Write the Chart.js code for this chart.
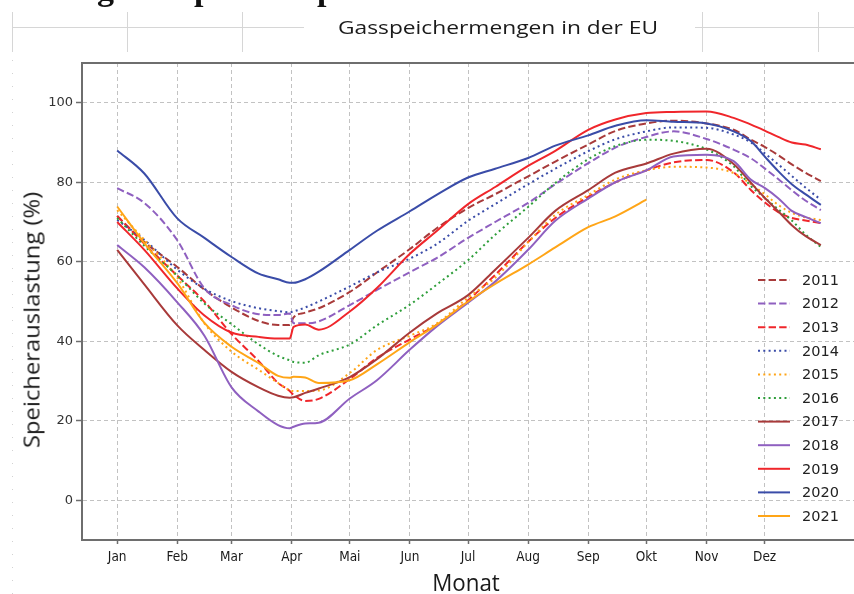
<!DOCTYPE html>
<html lang="de">
<head>
<meta charset="utf-8">
<title>Gasspeichermengen in der EU</title>
<script src="https://cdn.jsdelivr.net/npm/chart.js@4.4.1/dist/chart.umd.min.js"></script>
<style>
  html, body { margin: 0; padding: 0; background: #fff; }
  body { width: 854px; height: 594px; overflow: hidden; position: relative; font-family: 'Open Sans', sans-serif; }
  canvas { position: absolute; left: 0; top: 0; }
  .sheet-h, .sheet-v { position: absolute; background: #d6d6d6; }
  .sheet-h { height: 1px; top: 27px; }
  .sheet-v { width: 1px; top: 12px; height: 40px; }
  .dots { position: absolute; left: 12px; top: 60px; width: 1px; height: 534px;
          background: repeating-linear-gradient(to bottom, #d2d2d2 0 1px, transparent 1px 13px); }
  .cut { position: absolute; top: -28px; font: bold 34px 'Liberation Serif', serif; line-height: 34px; color: #111; }
  .lbl { position: absolute; white-space: nowrap; color: #1a1a1a; line-height: 1; transform-origin: center center; }
</style>
</head>
<body>
<canvas id="chart" width="854" height="594"></canvas>

<div class="sheet-h" style="left:12px; width:292px"></div>
<div class="sheet-h" style="left:695px; width:159px"></div>
<div class="sheet-v" style="left:12px"></div>
<div class="sheet-v" style="left:127px"></div>
<div class="sheet-v" style="left:242px"></div>
<div class="sheet-v" style="left:702px"></div>
<div class="sheet-v" style="left:818px"></div>
<div class="dots"></div>
<span class="cut" style="left:97px">g</span>
<span class="cut" style="left:194px">p</span>
<span class="cut" style="left:317px">p</span>

<span id="title" class="lbl" style="left:498px; top:27px; font-size:19px">Gasspeichermengen in der EU</span>
<span id="ylabel" class="lbl" style="left:32px; top:320px; font-size:21px">Speicherauslastung (%)</span>
<span id="xlabel" class="lbl" style="left:466px; top:582px; font-size:23px">Monat</span>

<script>
// Tag im Jahr der Stützstellen
const days = [1, 15, 32, 46, 60, 74, 84, 90, 92, 98, 105, 121, 135, 152, 166, 182, 196, 213, 227, 244, 258, 274, 288, 305, 319, 328, 335, 342, 349, 356, 364];

const monthStarts = [1, 32, 60, 91, 121, 152, 182, 213, 244, 274, 305, 335];
const monthLabels = ['Jan', 'Feb', 'Mar', 'Apr', 'Mai', 'Jun', 'Jul', 'Aug', 'Sep', 'Okt', 'Nov', 'Dez'];
const yTicks = [0, 20, 40, 60, 80, 100];

const years = ['2011', '2012', '2013', '2014', '2015', '2016', '2017', '2018', '2019', '2020', '2021'];

const s2011 = [71.5, 65, 58.7, 53, 48.5, 45.1, 44.1, 44.1, 46, 47.2, 48.3, 52.4, 57.3, 63.2, 68.5, 73.5, 77, 81.5, 85.2, 89.5, 92.9, 94.8, 95.5, 94.8, 93.2, 90.7, 88.9, 86.8, 84.5, 82.4, 80.3];
const s2012 = [78.5, 74.8, 65.4, 53.3, 49.1, 46.8, 46.6, 47, 44.5, 44.5, 45, 49.1, 52.9, 57.4, 61, 66, 70, 74.8, 79.5, 84.8, 88.7, 91.4, 92.8, 90.9, 88.2, 86, 83.5, 80.8, 78, 75.4, 73];
const s2013 = [71.5, 64.5, 56.5, 50, 41.8, 35, 29.5, 27.5, 26.5, 25, 25.5, 30.5, 35.8, 40.5, 44.2, 50.3, 56.7, 65, 71, 76.3, 80, 83, 85, 85.6, 82.5, 78, 75, 72.5, 71, 70.4, 69.7];
const s2014 = [70.5, 65.5, 58, 53.2, 50.1, 48.3, 47.6, 47.3, 47.5, 48.5, 50, 53.8, 57.3, 60.8, 64.5, 70.3, 74.5, 79.5, 83.4, 87.8, 90.8, 92.8, 93.8, 93.7, 92, 90, 87.3, 84.5, 81.6, 78.7, 75.6];
const s2015 = [73, 65.5, 56, 44.5, 37.4, 32.8, 29.5, 27.7, 27.5, 27.5, 27.6, 32, 37.8, 41.4, 44.5, 51, 56, 64.9, 71.8, 76.8, 80.7, 83, 83.9, 83.7, 82.3, 79.5, 77, 74.3, 72.3, 71.2, 70.5];
const s2016 = [71, 64, 56.5, 49.5, 44.3, 39.2, 36.3, 35.2, 34.8, 34.6, 36.5, 39.2, 44, 49.2, 54.3, 60.4, 66.8, 73.8, 79.8, 85.8, 89.1, 90.7, 90.4, 88.3, 84, 79, 76.1, 73.2, 70.4, 66.9, 63.7];
const s2017 = [63, 54.3, 44, 37.8, 32.3, 28.4, 26.3, 25.8, 25.9, 27, 28.1, 31, 35.5, 42.2, 47, 51.6, 58, 66, 72.8, 78, 82.4, 84.7, 87.2, 88.4, 84.6, 79.8, 76.1, 72.7, 69.2, 66.5, 64.2];
const s2018 = [64.2, 58.6, 49.8, 41.4, 28.4, 22.3, 18.9, 18.1, 18.5, 19.3, 19.5, 25.6, 30.2, 37.9, 43.8, 49.7, 55, 63, 70.3, 75.9, 80, 83, 86.5, 86.9, 85.3, 80.6, 78.6, 76, 72.8, 71.3, 69.7];
const s2019 = [70, 63, 53.3, 46.5, 42.2, 41.1, 40.7, 40.7, 43.6, 44.2, 42.9, 47.5, 53.4, 62, 67.8, 74.5, 78.8, 84.1, 87.9, 93.2, 95.8, 97.4, 97.7, 97.8, 96.2, 94.5, 93, 91.4, 90, 89.5, 88.3];
const s2020 = [88, 82.2, 70.9, 66, 61.2, 57, 55.6, 54.7, 54.7, 55.6, 57.5, 63, 67.8, 72.7, 76.9, 81.2, 83.4, 86.1, 89.2, 91.8, 94.2, 95.6, 95.2, 94.8, 92.8, 90.3, 86.5, 82.8, 79.5, 77, 74.3];
const s2021 = [73.9, 64.7, 54.6, 44.6, 38.6, 34.5, 31.3, 30.8, 31.1, 30.9, 29.5, 30.2, 34.2, 39.8, 44.2, 50, 54.4, 59.3, 63.6, 68.7, 71.4, 75.6];

const series = [s2011, s2012, s2013, s2014, s2015, s2016, s2017, s2018, s2019, s2020, s2021];

const BROWN = '#a83a3a', PURPLE = '#8f60c0', RED = '#f0262b', BLUE = '#3a4ca8', ORANGE = '#ffa517', GREEN = '#2e9e3a';
const DASH = [7.4, 3.2], DOT = [2, 3.3], SOLID = [];
const styles = [
  [BROWN, DASH], [PURPLE, DASH], [RED, DASH],
  [BLUE, DOT], [ORANGE, DOT], [GREEN, DOT],
  [BROWN, SOLID], [PURPLE, SOLID], [RED, SOLID], [BLUE, SOLID], [ORANGE, SOLID]
];

const AXIS = '#6e6e6e';
const GRID = '#c2c2c2';

// Rahmenlinie oben (rechts liegt ausserhalb des Bildes)
const frameTop = {
  id: 'frameTop',
  afterDraw(chart) {
    const { ctx, chartArea: a } = chart;
    ctx.save();
    ctx.strokeStyle = AXIS;
    ctx.lineWidth = 2;
    ctx.beginPath();
    ctx.moveTo(a.left - 1, a.top);
    ctx.lineTo(a.right, a.top);
    ctx.stroke();
    ctx.restore();
  }
};

// Legende innerhalb der Zeichenfläche, rechts unten
const yearLegend = {
  id: 'yearLegend',
  afterDraw(chart) {
    const { ctx } = chart;
    const x0 = 758, x1 = 790, tx = 802, y0 = 280, step = 23.6;
    ctx.save();
    chart.data.datasets.forEach((ds, i) => {
      const y = y0 + i * step;
      ctx.strokeStyle = ds.borderColor;
      ctx.lineWidth = 2;
      ctx.setLineDash(ds.borderDash);
      ctx.beginPath();
      ctx.moveTo(x0, y);
      ctx.lineTo(x1, y);
      ctx.stroke();
      ctx.setLineDash([]);
      ctx.fillStyle = '#222';
      ctx.font = '14.5px "DejaVu Sans"';
      ctx.textBaseline = 'middle';
      ctx.fillText(ds.label, tx, y + 1);
    });
    ctx.restore();
  }
};

Chart.defaults.font.family = '"DejaVu Sans", sans-serif';

new Chart(document.getElementById('chart'), {
  type: 'line',
  data: {
    datasets: years.map((yr, i) => ({
      label: yr,
      data: series[i].map((v, j) => ({ x: days[j], y: v })),
      borderColor: styles[i][0],
      borderDash: styles[i][1],
      borderWidth: 2,
      pointRadius: 0,
      fill: false,
      cubicInterpolationMode: 'monotone',
      order: years.length - i
    }))
  },
  options: {
    responsive: false,
    animation: false,
    devicePixelRatio: 1,
    events: [],
    layout: { padding: { top: 63, left: 0, right: 0, bottom: 0 } },
    plugins: { legend: { display: false }, tooltip: { enabled: false }, title: { display: false } },
    scales: {
      x: {
        type: 'linear',
        min: -17.15,
        max: 381.1,
        afterBuildTicks: s => { s.ticks = monthStarts.map(v => ({ value: v })); },
        afterFit: s => { s.height = 54; },
        ticks: {
          callback: v => monthLabels[monthStarts.indexOf(v)],
          font: { family: '"DejaVu Sans Condensed", "DejaVu Sans", sans-serif', size: 13.5 },
          color: '#1a1a1a',
          padding: 5,
          autoSkip: false,
          maxRotation: 0
        },
        grid: { color: GRID, lineWidth: 1, tickLength: 4, tickColor: AXIS, tickWidth: 1.5 },
        border: { color: AXIS, width: 2, dash: [4, 3] }
      },
      y: {
        min: -10,
        max: 110,
        afterBuildTicks: s => { s.ticks = yTicks.map(v => ({ value: v })); },
        afterFit: s => { s.width = 82; },
        ticks: { font: { size: 13 }, color: '#333', padding: 3 },
        grid: { color: GRID, lineWidth: 1, tickLength: 6, tickColor: AXIS, tickWidth: 1.5 },
        border: { color: AXIS, width: 2, dash: [4, 3] }
      }
    }
  },
  plugins: [frameTop, yearLegend]
});

// Beschriftungen auf die Breite im Original bringen
function fitText(id, target, rotate) {
  const el = document.getElementById(id);
  const k = target / el.offsetWidth;
  el.style.transform = 'translate(-50%,-50%)' + (rotate ? ' rotate(-90deg)' : '') + ' scaleX(' + k + ')';
}
function fitAll() {
  fitText('title', 320, false);
  fitText('ylabel', 256, true);
  fitText('xlabel', 68, false);
}
fitAll();
if (document.fonts) document.fonts.ready.then(fitAll);
</script>
</body>
</html>
